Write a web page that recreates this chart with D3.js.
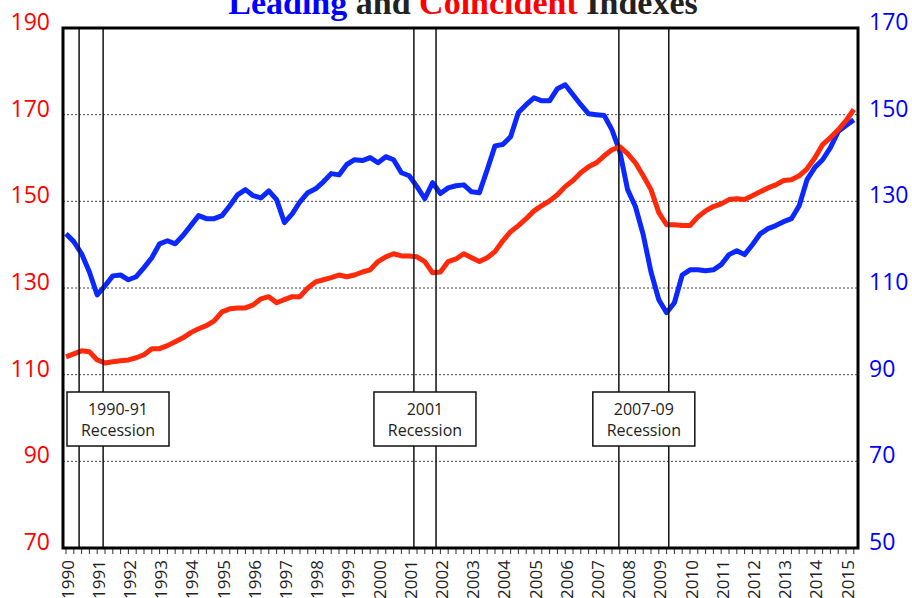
<!DOCTYPE html>
<html>
<head>
<meta charset="utf-8">
<script src="https://cdn.jsdelivr.net/npm/d3@7.9.0/dist/d3.min.js"></script>
<style>
  body { margin: 0; background: #fff; }
  svg { display: block; }
  text { font-family: "Open Sans", "Noto Sans", sans-serif; }
</style>
</head>
<body>
<svg id="chart" width="912" height="598"></svg>
<script>
// quarterly readings, 1990Q1 .. 2015Q2
const coincident = [
  114.1, 114.8, 115.5, 115.3, // 1990
  113.4, 112.7, 113.0, 113.2, // 1991
  113.4, 113.9, 114.6, 116.0, // 1992
  116.0, 116.7, 117.6, 118.5, // 1993
  119.7, 120.6, 121.3, 122.4, // 1994
  124.5, 125.2, 125.4, 125.4, // 1995
  126.1, 127.5, 128.0, 126.6, // 1996
  127.3, 128.0, 128.0, 130.0, // 1997
  131.4, 131.9, 132.4, 133.0, // 1998
  132.6, 133.0, 133.7, 134.2, // 1999
  136.1, 137.2, 137.9, 137.4, // 2000
  137.4, 137.2, 136.1, 133.5, // 2001
  133.7, 136.1, 136.7, 137.9, // 2002
  137.0, 136.1, 137.0, 138.4, // 2003
  140.9, 143.0, 144.4, 146.0, // 2004
  147.8, 149.0, 150.1, 151.5, // 2005
  153.4, 154.8, 156.6, 158.0, // 2006
  158.9, 160.5, 161.9, 162.6, // 2007
  161.0, 158.9, 155.9, 152.7, // 2008
  147.4, 144.6, 144.6, 144.4, // 2009
  144.4, 146.4, 147.8, 148.8, // 2010
  149.4, 150.4, 150.6, 150.4, // 2011
  151.3, 152.2, 153.1, 153.8, // 2012
  154.8, 155.0, 155.9, 157.5, // 2013
  160.0, 163.1, 164.7, 166.5, // 2014
  168.6, 171.2                // 2015
];

const leading = [
  122.5, 120.7, 117.9, 113.7, // 1990
  108.4, 110.5, 112.8, 113.0, // 1991
  111.9, 112.6, 114.7, 117.0, // 1992
  120.2, 120.9, 120.2, 122.1, // 1993
  124.4, 126.7, 126.0, 126.0, // 1994
  126.7, 129.0, 131.5, 132.7, // 1995
  131.3, 130.8, 132.4, 130.4, // 1996
  125.1, 127.1, 129.9, 132.0, // 1997
  132.9, 134.5, 136.4, 136.1, // 1998
  138.5, 139.6, 139.4, 140.1, // 1999
  138.9, 140.3, 139.6, 136.6, // 2000
  135.9, 133.4, 130.6, 134.3, // 2001
  131.8, 133.1, 133.6, 133.8, // 2002
  132.2, 132.0, 137.3, 142.8, // 2003
  143.1, 144.9, 150.5, 152.3, // 2004
  153.9, 153.2, 153.2, 156.0, // 2005
  156.9, 154.6, 152.3, 150.2, // 2006
  150.0, 149.8, 146.5, 141.5, // 2007
  132.7, 128.8, 122.3, 113.7, // 2008
  107.3, 104.3, 106.6, 113.0, // 2009
  114.2, 114.2, 114.0, 114.2, // 2010
  115.4, 117.7, 118.6, 117.7, // 2011
  120.0, 122.5, 123.7, 124.4, // 2012
  125.3, 126.0, 129.0, 135.0, // 2013
  137.8, 139.6, 142.4, 146.1, // 2014
  147.5, 148.8                // 2015
];

const years = d3.range(1990, 2016);
const leftTicks = [70, 90, 110, 130, 150, 170, 190];
const rightTicks = [50, 70, 90, 110, 130, 150, 170];

const recessions = [
  { start: 1990.42, end: 1991.19, label: ['1990-91', 'Recession'] },
  { start: 2001.15, end: 2001.86, label: ['2001', 'Recession'] },
  { start: 2007.72, end: 2009.32, label: ['2007-09', 'Recession'] }
];

const svg = d3.select('#chart');
const plotLeft = 63, plotRight = 858, plotTop = 28, plotBottom = 548;

const x = d3.scaleLinear().domain([1990, 2015]).range([66, 846]);
const yL = d3.scaleLinear().domain([70, 190]).range([plotBottom, plotTop]);
const yR = d3.scaleLinear().domain([50, 170]).range([plotBottom, plotTop]);

// title (partly cut by the top edge, as in the source)
const title = svg.append('text')
  .attr('x', 463).attr('y', 14)
  .attr('text-anchor', 'middle')
  .style('font-family', '"Liberation Serif", "Times New Roman", serif')
  .style('font-weight', 'bold')
  .style('font-size', '34px')
  .attr('fill', '#222');
title.append('tspan').attr('fill', '#0000ff').text('Leading');
title.append('tspan').text(' and ');
title.append('tspan').attr('fill', '#ff0000').text('Coincident');
title.append('tspan').text(' Indexes');

// grid
svg.append('g')
  .selectAll('line')
  .data(leftTicks.filter(d => d > 70 && d < 190))
  .join('line')
  .attr('x1', plotLeft).attr('x2', plotRight)
  .attr('y1', d => yL(d)).attr('y2', d => yL(d))
  .attr('stroke', '#444')
  .attr('stroke-width', 1)
  .attr('stroke-dasharray', '2,2');

// x ticks (quarterly)
svg.append('g')
  .selectAll('line')
  .data(d3.range(1990, 2015.5, 0.25))
  .join('line')
  .attr('x1', d => x(d)).attr('x2', d => x(d))
  .attr('y1', plotBottom).attr('y2', plotBottom + 6)
  .attr('stroke', '#333')
  .attr('stroke-width', 1);

svg.append('g')
  .selectAll('text')
  .data(years)
  .join('text')
  .attr('transform', d => `translate(${x(d) + 1},${plotBottom + 12}) rotate(-90)`)
  .attr('text-anchor', 'end')
  .attr('dominant-baseline', 'central')
  .attr('fill', '#222')
  .style('font-size', '17px')
  .text(d => d);

// y labels
svg.append('g')
  .selectAll('text')
  .data(leftTicks)
  .join('text')
  .attr('x', 50)
  .attr('y', d => yL(d) - 7)
  .attr('text-anchor', 'end')
  .attr('dominant-baseline', 'central')
  .attr('fill', '#ff0000')
  .style('font-size', '23px')
  .text(d => d);

svg.append('g')
  .selectAll('text')
  .data(rightTicks)
  .join('text')
  .attr('x', 869)
  .attr('y', d => yR(d) - 7)
  .attr('text-anchor', 'start')
  .attr('dominant-baseline', 'central')
  .attr('fill', '#0000ff')
  .style('font-size', '23px')
  .text(d => d);

// lines
const quarter = i => 1990 + i / 4;
const lineL = d3.line().x((d, i) => x(quarter(i))).y(d => yL(d));
const lineR = d3.line().x((d, i) => x(quarter(i))).y(d => yR(d));

svg.append('path')
  .datum(leading)
  .attr('d', lineR)
  .attr('fill', 'none')
  .attr('stroke', '#0a28ff')
  .attr('stroke-width', 5)
  .attr('stroke-linejoin', 'round');

svg.append('path')
  .datum(coincident)
  .attr('d', lineL)
  .attr('fill', 'none')
  .attr('stroke', '#ff2a0a')
  .attr('stroke-width', 5)
  .attr('stroke-linejoin', 'round');

// recession markers
const rec = svg.append('g');
recessions.forEach(r => {
  [r.start, r.end].forEach(t => {
    rec.append('line')
      .attr('x1', x(t)).attr('x2', x(t))
      .attr('y1', plotTop).attr('y2', plotBottom)
      .attr('stroke', '#111')
      .attr('stroke-width', 1.5);
  });
  const w = 102, h = 54;
  let cx = (x(r.start) + x(r.end)) / 2;
  cx = Math.max(cx, plotLeft + 4 + w / 2);
  rec.append('rect')
    .attr('x', cx - w / 2).attr('y', 392)
    .attr('width', w).attr('height', h)
    .attr('fill', '#fff')
    .attr('stroke', '#111')
    .attr('stroke-width', 1.5);
  rec.append('text')
    .attr('x', cx).attr('y', 415)
    .attr('text-anchor', 'middle')
    .attr('fill', '#222')
    .style('font-size', '16px')
    .text(r.label[0]);
  rec.append('text')
    .attr('x', cx).attr('y', 436)
    .attr('text-anchor', 'middle')
    .attr('fill', '#222')
    .style('font-size', '16px')
    .text(r.label[1]);
});

// frame
svg.append('rect')
  .attr('x', plotLeft).attr('y', plotTop)
  .attr('width', plotRight - plotLeft).attr('height', plotBottom - plotTop)
  .attr('fill', 'none')
  .attr('stroke', '#000')
  .attr('stroke-width', 3);
</script>
</body>
</html>
